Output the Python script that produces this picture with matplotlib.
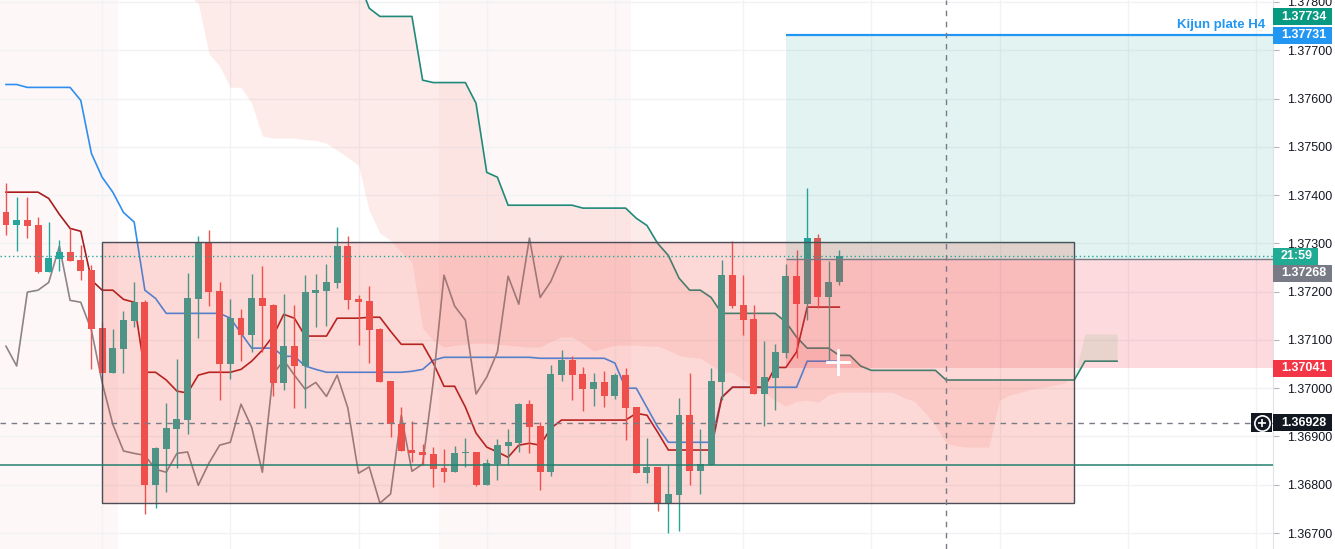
import matplotlib
matplotlib.use("Agg")
import numpy as np
import matplotlib.pyplot as plt
import matplotlib.transforms as mtransforms
from matplotlib.patches import Rectangle

plt.rcParams['font.family'] = ['Liberation Sans', 'DejaVu Sans']

# ==========================================
# données (une bougie par barre)
# ==========================================
opens = [1.37364, 1.37337, 1.37348, 1.37337, 1.37240, 1.37267, 1.37282, 1.37265, 1.37244, 1.37124,
         1.37031, 1.37081, 1.37139, 1.37178, 1.36799, 1.36874, 1.36915, 1.36934, 1.37184, 1.37302,
         1.37201, 1.37050, 1.37145, 1.37110, 1.37186, 1.37172, 1.37010, 1.37087, 1.37046, 1.37197,
         1.37201, 1.37217, 1.37294, 1.37184, 1.37180, 1.37122, 1.37014, 1.36925, 1.36872, 1.36868,
         1.36863, 1.36834, 1.36826, 1.36865, 1.36868, 1.36799, 1.36843, 1.36880, 1.36886, 1.36967,
         1.36921, 1.36826, 1.37027, 1.37058, 1.37029, 1.36998, 1.37012, 1.36983, 1.37027, 1.36961,
         1.36824, 1.36837, 1.36762, 1.36779, 1.36944, 1.36828, 1.36841, 1.37012, 1.37234, 1.37172,
         1.37143, 1.36988, 1.37021, 1.37072, 1.37232, 1.37174, 1.37311, 1.37188, 1.37219]
highs = [1.37426, 1.37395, 1.37395, 1.37354, 1.37344, 1.37306, 1.37331, 1.37296, 1.37255, 1.37137,
         1.37122, 1.37159, 1.37221, 1.37182, 1.36878, 1.36969, 1.37060, 1.37238, 1.37315, 1.37327,
         1.37221, 1.37184, 1.37164, 1.37236, 1.37253, 1.37174, 1.37195, 1.37172, 1.37234, 1.37236,
         1.37257, 1.37333, 1.37315, 1.37193, 1.37211, 1.37124, 1.37014, 1.36961, 1.36932, 1.36884,
         1.36878, 1.36874, 1.36880, 1.36897, 1.36868, 1.36853, 1.36894, 1.36915, 1.36969, 1.36975,
         1.36930, 1.37048, 1.37079, 1.37066, 1.37043, 1.37031, 1.37035, 1.37031, 1.37041, 1.36961,
         1.36897, 1.36837, 1.36841, 1.36979, 1.37031, 1.36915, 1.37041, 1.37265, 1.37304, 1.37234,
         1.37172, 1.37097, 1.37091, 1.37257, 1.37286, 1.37414, 1.37319, 1.37263, 1.37286]
lows = [1.37317, 1.37284, 1.37311, 1.37238, 1.37240, 1.37242, 1.37263, 1.37224, 1.37039, 1.37031,
        1.37031, 1.37031, 1.37126, 1.36739, 1.36752, 1.36785, 1.36834, 1.36905, 1.37104, 1.37170,
        1.36975, 1.37019, 1.37056, 1.37075, 1.37075, 1.36983, 1.36996, 1.36959, 1.36959, 1.37126,
        1.37128, 1.37207, 1.37164, 1.37089, 1.37052, 1.37012, 1.36899, 1.36870, 1.36847, 1.36841,
        1.36795, 1.36805, 1.36826, 1.36837, 1.36797, 1.36799, 1.36810, 1.36841, 1.36868, 1.36865,
        1.36789, 1.36818, 1.37014, 1.36975, 1.36952, 1.36963, 1.36961, 1.36977, 1.36892, 1.36824,
        1.36803, 1.36745, 1.36700, 1.36704, 1.36799, 1.36781, 1.36841, 1.36975, 1.37166, 1.37110,
        1.36988, 1.36921, 1.36954, 1.37062, 1.37062, 1.37141, 1.37166, 1.37058, 1.37213]
closes = [1.37337, 1.37348, 1.37335, 1.37240, 1.37269, 1.37282, 1.37263, 1.37242, 1.37122, 1.37031,
          1.37083, 1.37141, 1.37178, 1.36799, 1.36876, 1.36917, 1.36936, 1.37186, 1.37302, 1.37199,
          1.37050, 1.37145, 1.37110, 1.37186, 1.37170, 1.37010, 1.37087, 1.37046, 1.37199, 1.37203,
          1.37219, 1.37294, 1.37182, 1.37178, 1.37120, 1.37012, 1.36925, 1.36870, 1.36865, 1.36861,
          1.36832, 1.36826, 1.36865, 1.36868, 1.36799, 1.36845, 1.36882, 1.36888, 1.36967, 1.36919,
          1.36826, 1.37029, 1.37058, 1.37027, 1.36998, 1.37012, 1.36983, 1.37027, 1.36959, 1.36824,
          1.36837, 1.36762, 1.36781, 1.36944, 1.36828, 1.36843, 1.37014, 1.37234, 1.37170, 1.37141,
          1.36988, 1.37023, 1.37075, 1.37232, 1.37174, 1.37311, 1.37188, 1.37221, 1.37273]

# Ichimoku : tenkan (rouge foncé), kijun (bleu)
tenkan = [1.37406, 1.37406, 1.37406, 1.37406, 1.37393, 1.37360, 1.37331, 1.37325, 1.37224, 1.37203,
          1.37203, 1.37184, 1.37178, 1.37033, 1.37033, 1.37017, 1.36994, 1.36990, 1.37027, 1.37033,
          1.37033, 1.37033, 1.37039, 1.37056, 1.37079, 1.37108, 1.37153, 1.37145, 1.37108, 1.37108,
          1.37108, 1.37145, 1.37145, 1.37145, 1.37147, 1.37147, 1.37118, 1.37091, 1.37091, 1.37091,
          1.37052, 1.37004, 1.37004, 1.36961, 1.36907, 1.36878, 1.36868, 1.36857, 1.36882, 1.36886,
          1.36882, 1.36917, 1.36934, 1.36934, 1.36934, 1.36934, 1.36934, 1.36934, 1.36934, 1.36948,
          1.36944, 1.36909, 1.36872, 1.36872, 1.36872, 1.36872, 1.36872, 1.36981, 1.37002, 1.37002,
          1.37002, 1.37002, 1.37043, 1.37043, 1.37075, 1.37168, 1.37168, 1.37168, 1.37168]
kijun = [1.37629, 1.37629, 1.37623, 1.37623, 1.37623, 1.37623, 1.37623, 1.37596, 1.37486, 1.37437,
         1.37406, 1.37364, 1.37344, 1.37203, 1.37186, 1.37155, 1.37155, 1.37155, 1.37155, 1.37155,
         1.37155, 1.37145, 1.37114, 1.37083, 1.37083, 1.37083, 1.37066, 1.37066, 1.37046, 1.37039,
         1.37033, 1.37033, 1.37033, 1.37033, 1.37033, 1.37033, 1.37033, 1.37033, 1.37035, 1.37039,
         1.37058, 1.37064, 1.37064, 1.37064, 1.37064, 1.37064, 1.37064, 1.37064, 1.37064, 1.37064,
         1.37062, 1.37062, 1.37062, 1.37062, 1.37062, 1.37062, 1.37062, 1.37052, 1.37000, 1.37000,
         1.36960, 1.36920, 1.36888, 1.36888, 1.36888, 1.36888, 1.36888, 1.36981, 1.37002, 1.37002,
         1.37002, 1.37002, 1.37002, 1.37002, 1.37002, 1.37056, 1.37056, 1.37056, 1.37056]

# nuage (décalé de 26 barres), barres 17 à 104
span_start = 17
span_a = [1.37814, 1.37797, 1.37693, 1.37667, 1.37623, 1.37623, 1.37590, 1.37522, 1.37518, 1.37518,
          1.37518, 1.37515, 1.37513, 1.37507, 1.37493, 1.37478, 1.37462, 1.37368, 1.37321, 1.37306,
          1.37282, 1.37261, 1.37124, 1.37099, 1.37085, 1.37089, 1.37091, 1.37093, 1.37093, 1.37091,
          1.37089, 1.37087, 1.37085, 1.37085, 1.37097, 1.37106, 1.37106, 1.37093, 1.37077, 1.37083,
          1.37089, 1.37089, 1.37089, 1.37087, 1.37087, 1.37079, 1.37068, 1.37064, 1.37062, 1.37048,
          1.37033, 1.37033, 1.37017, 1.37002, 1.36990, 1.36975, 1.36963, 1.36973, 1.36975, 1.36971,
          1.36986, 1.36992, 1.36992, 1.36992, 1.36992, 1.36992, 1.36992, 1.36981, 1.36973, 1.36950,
          1.36923, 1.36886, 1.36880, 1.36878, 1.36878, 1.36878, 1.36975, 1.36986, 1.36992, 1.36998,
          1.37002, 1.37006, 1.37010, 1.37023, 1.37112, 1.37112, 1.37112, 1.37112]
span_b = [1.37900] * 16 + [1.37845, 1.37787, 1.37770, 1.37770, 1.37770, 1.37770,
          1.37638, 1.37633, 1.37633, 1.37633, 1.37633, 1.37590, 1.37447, 1.37437] \
    + [1.37379] * 7 + [1.37373] * 5 \
    + [1.37352, 1.37337, 1.37300, 1.37275, 1.37228, 1.37203, 1.37203, 1.37188] \
    + [1.37155] * 6 + [1.37137, 1.37106, 1.37083, 1.37083, 1.37083, 1.37068, 1.37068, 1.37046] \
    + [1.37037] * 7 + [1.37017] * 13 + [1.37056] * 4

# dessins : rectangle, position longue, lignes horizontales
box_bars = (9, 100)
box_prices = (1.36762, 1.37302)
pos_start = 73
entry_price = 1.37268
target_price = 1.37734
stop_price = 1.37041
kijun_h4 = 1.37731
last_price = 1.37273
cross_price = 1.36928
cross_bar = 88
support_price = 1.36841
session_bands = [(-0.56, 10.5), (40.5, 58.5)]

# ==========================================
# figure
# ==========================================
W, H = 1335, 549
AX_W = 1273
fig = plt.figure(figsize=(W / 100, H / 100), dpi=100)
ax = fig.add_axes([0, 0, AX_W / W, 1])
XMIN, XMAX = -0.56, 118.6
YMIN, YMAX = 1.36667, 1.37804
PX_PER_PRICE = H / (YMAX - YMIN)

o = np.array(opens); h = np.array(highs); l = np.array(lows); c = np.array(closes)
bars = np.arange(len(c))

for x0, x1 in session_bands:
    ax.axvspan(x0, x1, color='#f44336', alpha=0.04, lw=0, zorder=0)

# nuage
sx = np.arange(span_start, span_start + len(span_a))
sa = np.array(span_a); sb = np.array(span_b)
ax.fill_between(sx, sa, sb, where=sb >= sa, interpolate=True, color='#f44336', alpha=0.10, lw=0, zorder=1)
ax.fill_between(sx, sa, sb, where=sa > sb, interpolate=True, color='#43a047', alpha=0.10, lw=0, zorder=9)
ax.plot(sx, sb, color='#1f8a7a', lw=1.2, zorder=3)

# lignes ichimoku
ax.plot(bars, kijun, color='#2e8ff0', lw=1.2, zorder=3)
ax.plot(bars, tenkan, color='#a81c1c', lw=1.2, zorder=3)
ax.plot(bars[:-26], c[26:], color='#8c8488', lw=1.2, zorder=3)

# bougies
cols = np.where(c >= o, '#26a69a', '#ef5350')
ax.vlines(bars, l, h, colors=cols, lw=1, zorder=4)
ax.bar(bars, np.maximum(np.abs(c - o), 0.00003), bottom=np.minimum(o, c),
       width=0.65, color=cols, lw=0, zorder=5)

# rectangle
ax.add_patch(Rectangle((box_bars[0], box_prices[0]), box_bars[1] - box_bars[0],
                       box_prices[1] - box_prices[0], facecolor=(0.957, 0.263, 0.212, 0.2),
                       edgecolor='#4a4d57', lw=1, zorder=6))

# position longue
ax.add_patch(Rectangle((pos_start, entry_price), XMAX - pos_start, target_price - entry_price,
                       facecolor=(8 / 255, 153 / 255, 129 / 255, 0.11), lw=0, zorder=7))
ax.add_patch(Rectangle((pos_start, stop_price), XMAX - pos_start, entry_price - stop_price,
                       facecolor=(242 / 255, 54 / 255, 69 / 255, 0.18), lw=0, zorder=7))
ax.hlines(entry_price, pos_start, XMAX, color='#787b86', lw=1, zorder=8)

ax.hlines(kijun_h4, pos_start, XMAX, color='#2196f3', lw=1.6, zorder=8)
ax.text(1265 / AX_W, kijun_h4 + 4 / PX_PER_PRICE, 'Kijun plate H4', transform=mtransforms.blended_transform_factory(ax.transAxes, ax.transData),
        ha='right', va='bottom', color='#2196f3', fontsize=9.5, fontweight='bold', zorder=12)

ax.axhline(support_price, color='#23806f', lw=1.1, zorder=8)
ax.axhline(last_price, color='#26a69a', lw=1, ls=(0, (1, 2)), zorder=8)
ax.axhline(cross_price, color='#787b86', lw=1, ls=(0, (4, 4)), zorder=8)
ax.axvline(cross_bar, color='#787b86', lw=1, ls=(0, (4, 4)), zorder=8)

# curseur
cx, cy = 77.9, 1.37054
ax.plot([cx - 1.05, cx + 1.05], [cy, cy], color='white', lw=2, zorder=13)
ax.plot([cx, cx], [cy - 12 / PX_PER_PRICE, cy + 12 / PX_PER_PRICE], color='white', lw=2, zorder=13)

# axes
ax.set_xlim(XMIN, XMAX)
ax.set_ylim(YMIN, YMAX)
ax.set_xticks(np.arange(9, 118, 12))
ax.set_yticks(np.arange(1.367, 1.37801, 0.001))
ax.yaxis.tick_right()
ax.yaxis.set_major_formatter(matplotlib.ticker.FormatStrFormatter('%.5f'))
ax.tick_params(axis='x', length=0, labelbottom=False)
ax.tick_params(axis='y', length=4, color='#b2b5be', labelsize=9, labelcolor='#131722', pad=6)
ax.grid(True, color='#f0f2f5', lw=1, zorder=0.5)
ax.set_axisbelow(True)
for s in ['top', 'left', 'bottom']:
    ax.spines[s].set_visible(False)
ax.spines['right'].set_color('#e0e3eb')

# étiquettes de prix
trans = mtransforms.blended_transform_factory(ax.transAxes, ax.transData)


def price_tag(y, text, color, w_px=59, x_px=AX_W):
    hh = 17 / PX_PER_PRICE
    ax.add_patch(Rectangle(((x_px) / AX_W, y - hh / 2), w_px / AX_W, hh, transform=trans,
                           facecolor=color, edgecolor='none', clip_on=False, zorder=20))
    ax.text((AX_W + 8) / AX_W, y, text, transform=trans, ha='left', va='center',
            color='white', fontsize=9, fontweight='bold', clip_on=False, zorder=21)


price_tag(target_price + 17 / PX_PER_PRICE, f'{target_price:.5f}', '#089981')
price_tag(kijun_h4, f'{kijun_h4:.5f}', '#2196f3')
price_tag(last_price, '21:59', '#22ab94', w_px=45)
price_tag(last_price - 17 / PX_PER_PRICE, f'{entry_price:.5f}', '#787b86')
price_tag(stop_price, f'{stop_price:.5f}', '#f23645')
price_tag(cross_price, f'{cross_price:.5f}', '#131722')

# icône "+" du réticule
hh = 19 / PX_PER_PRICE
ax.add_patch(Rectangle((1251 / AX_W, cross_price - hh / 2), 21 / AX_W, hh, transform=trans,
                       facecolor='#131722', edgecolor='none', clip_on=False, zorder=20))
ax.plot([1262 / AX_W], [cross_price], transform=trans, marker='o', ms=11, mfc='none',
        mec='white', mew=1.2, clip_on=False, zorder=22)
ax.plot([1262 / AX_W], [cross_price], transform=trans, marker='+', ms=6, mec='white',
        mew=1.2, clip_on=False, zorder=22)

fig.savefig('out.png', dpi=100)
